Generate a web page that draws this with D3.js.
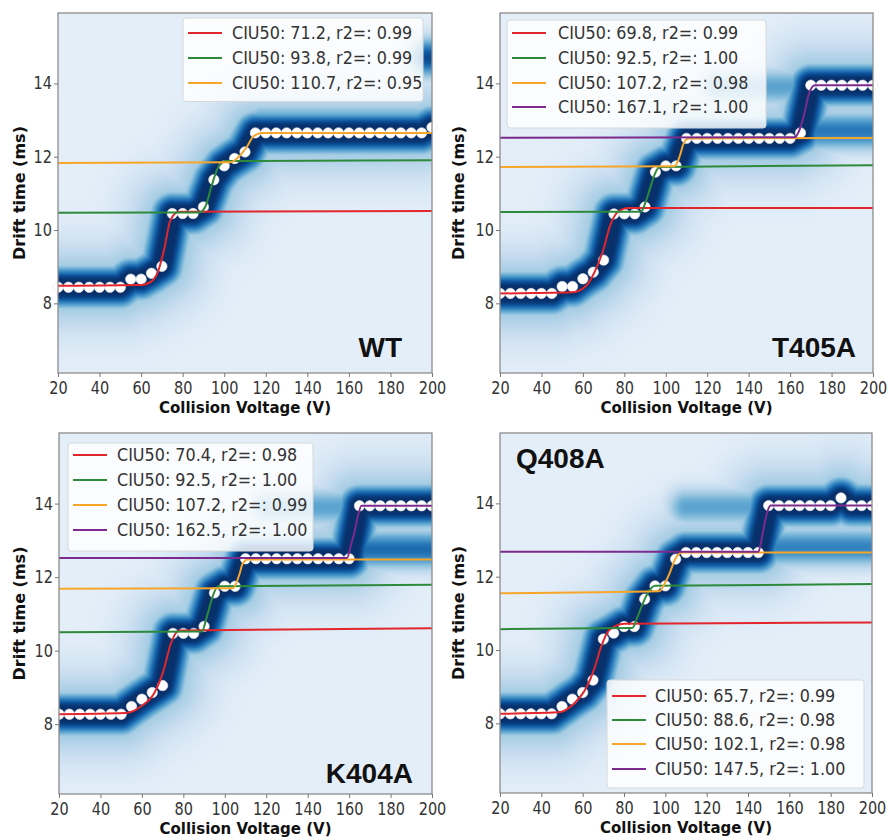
<!DOCTYPE html>
<html>
<head>
<meta charset="utf-8">
<script src="https://cdn.jsdelivr.net/npm/d3@7"></script>
<style>
  body { margin: 0; background: #fff; }
  text { font-family: "DejaVu Sans", sans-serif; }
</style>
</head>
<body>
<div id="chart"></div>
<script>
// SVG area
var svgWidth = 889;
var svgHeight = 840;

// collision voltages (V), shared by all four fingerprints
var voltages = [20, 25, 30, 35, 40, 45, 50, 55, 60, 65, 70, 75, 80, 85, 90, 95, 100,
  105, 110, 115, 120, 125, 130, 135, 140, 145, 150, 155, 160, 165, 170, 175, 180,
  185, 190, 195, 200];

// feature centroid drift times (ms), one per voltage
var wtDrift = [8.44, 8.44, 8.44, 8.44, 8.44, 8.44, 8.44, 8.66, 8.66, 8.82, 9.01,
  10.45, 10.45, 10.45, 10.63, 11.37, 11.75, 11.95, 12.13,
  12.65, 12.65, 12.65, 12.65, 12.65, 12.65, 12.65, 12.65, 12.65, 12.65, 12.65,
  12.65, 12.65, 12.65, 12.65, 12.65, 12.65, 12.8];
var t405Drift = [8.27, 8.27, 8.27, 8.27, 8.27, 8.27, 8.46, 8.46, 8.67, 8.85, 9.18,
  10.44, 10.44, 10.44, 10.63, 11.58, 11.75, 11.75,
  12.5, 12.5, 12.5, 12.5, 12.5, 12.5, 12.5, 12.5, 12.5, 12.5, 12.5, 12.65,
  13.95, 13.95, 13.95, 13.95, 13.95, 13.95, 13.95];
var k404Drift = [8.27, 8.27, 8.27, 8.27, 8.27, 8.27, 8.27, 8.48, 8.68, 8.86, 9.05,
  10.47, 10.47, 10.47, 10.66, 11.57, 11.75, 11.75,
  12.5, 12.5, 12.5, 12.5, 12.5, 12.5, 12.5, 12.5, 12.5, 12.5, 12.5,
  13.94, 13.94, 13.94, 13.94, 13.94, 13.94, 13.94, 13.94];
var q408Drift = [8.26, 8.26, 8.26, 8.26, 8.26, 8.26, 8.46, 8.66, 8.84, 9.18, 10.3,
  10.46, 10.64, 10.64, 11.39, 11.75, 11.75, 12.48,
  12.66, 12.66, 12.66, 12.66, 12.66, 12.66, 12.66, 12.66,
  13.94, 13.94, 13.94, 13.94, 13.94, 13.94, 13.94, 14.15, 13.94, 13.94, 13.94];

// weaker intensity features in the fingerprints: [from V, to V, drift time, weight]
var wtExtra = [[198, 206, 14.7, 0.9], [118, 200, 12.9, 0.6]];
var t405Extra = [[125, 168, 13.9, 0.5], [168, 200, 12.7, 0.7]];
var k404Extra = [[120, 163, 13.9, 0.5], [163, 200, 12.75, 0.75]];
var q408Extra = [[110, 150, 13.9, 0.5], [150, 200, 12.8, 0.65]];

// fitted transitions (V, ms)
var wtFitRed = [[20, 8.48], [60, 8.5], [65, 8.6], [68, 8.85], [71.2, 9.5], [74, 10.25], [78, 10.5], [200, 10.52]];
var wtFitGreen = [[20, 10.47], [88, 10.48], [91, 10.65], [93.8, 11.18], [97, 11.7], [101, 11.88], [200, 11.9]];
var wtFitOrange = [[20, 11.83], [103, 11.85], [107, 12.0], [110.7, 12.25], [114, 12.55], [118, 12.65], [200, 12.65]];

var t405FitRed = [[20, 8.27], [55, 8.3], [62, 8.5], [66, 8.9], [69.8, 9.45], [73, 10.1], [77, 10.5], [82, 10.6], [200, 10.6]];
var t405FitGreen = [[20, 10.49], [88, 10.5], [90.5, 10.8], [92.5, 11.15], [94.5, 11.5], [97, 11.72], [200, 11.77]];
var t405FitOrange = [[20, 11.72], [104, 11.74], [106, 11.9], [107.2, 12.1], [108.5, 12.35], [111, 12.5], [200, 12.51]];
var t405FitPurple = [[20, 12.52], [162, 12.53], [165, 12.8], [167.1, 13.23], [169, 13.7], [172, 13.95], [200, 13.95]];

var k404FitRed = [[20, 8.27], [52, 8.3], [60, 8.5], [66, 8.85], [70.4, 9.45], [74, 10.2], [78, 10.55], [200, 10.61]];
var k404FitGreen = [[20, 10.5], [89, 10.52], [91, 10.85], [92.5, 11.15], [94, 11.45], [97, 11.75], [200, 11.79]];
var k404FitOrange = [[20, 11.68], [104, 11.7], [106, 11.9], [107.2, 12.1], [108.5, 12.35], [111, 12.48], [200, 12.48]];
var k404FitPurple = [[20, 12.52], [159, 12.52], [161, 12.9], [162.5, 13.2], [164, 13.6], [166, 13.94], [200, 13.94]];

var q408FitRed = [[20, 8.26], [48, 8.3], [56, 8.55], [62, 9.0], [65.7, 9.5], [69, 10.1], [73, 10.55], [80, 10.72], [200, 10.75]];
var q408FitGreen = [[20, 10.57], [84, 10.6], [86.5, 10.9], [88.6, 11.2], [91, 11.5], [95, 11.75], [200, 11.8]];
var q408FitOrange = [[20, 11.55], [97, 11.6], [100, 11.85], [102.1, 12.1], [104.5, 12.45], [108, 12.66], [200, 12.66]];
var q408FitPurple = [[20, 12.68], [145, 12.68], [146.5, 13.0], [147.5, 13.3], [149, 13.7], [151, 13.94], [200, 13.94]];

// legend values
var wtCiu = [71.2, 93.8, 110.7];
var wtR2 = ["0.99", "0.99", "0.95"];
var t405Ciu = [69.8, 92.5, 107.2, 167.1];
var t405R2 = ["0.99", "1.00", "0.98", "1.00"];
var k404Ciu = [70.4, 92.5, 107.2, 162.5];
var k404R2 = ["0.98", "1.00", "0.99", "1.00"];
var q408Ciu = [65.7, 88.6, 102.1, 147.5];
var q408R2 = ["0.99", "0.98", "0.98", "1.00"];

var fitColors = ["#e2262c", "#2e8a3b", "#f7a62a", "#7c2a8d"];
var xTicks = [20, 40, 60, 80, 100, 120, 140, 160, 180, 200];
var yTicks = [8, 10, 12, 14];

// panel layout
var panels = [
  { name: "WT", drift: wtDrift, extra: wtExtra, fits: [wtFitRed, wtFitGreen, wtFitOrange],
    ciu: wtCiu, r2: wtR2, left: 58, right: 432, top: 13, bottom: 373, yTitleX: 25,
    legend: { x: 183, y: 18, w: 240, rows: [33, 58, 83], line: 188, text: 232 },
    label: { x: 402, y: 357, anchor: "end" } },
  { name: "T405A", drift: t405Drift, extra: t405Extra, fits: [t405FitRed, t405FitGreen, t405FitOrange, t405FitPurple],
    ciu: t405Ciu, r2: t405R2, left: 500, right: 873, top: 13, bottom: 373, yTitleX: 464,
    legend: { x: 507, y: 20, w: 259, rows: [33, 58, 83, 107], line: 512, text: 558 },
    label: { x: 856, y: 357, anchor: "end" } },
  { name: "K404A", drift: k404Drift, extra: k404Extra, fits: [k404FitRed, k404FitGreen, k404FitOrange, k404FitPurple],
    ciu: k404Ciu, r2: k404R2, left: 59, right: 432, top: 433, bottom: 794, yTitleX: 25,
    legend: { x: 68, y: 443, w: 245, rows: [455, 480, 505, 530], line: 73, text: 117 },
    label: { x: 413, y: 783, anchor: "end" } },
  { name: "Q408A", drift: q408Drift, extra: q408Extra, fits: [q408FitRed, q408FitGreen, q408FitOrange, q408FitPurple],
    ciu: q408Ciu, r2: q408R2, left: 500, right: 872, top: 433, bottom: 793, yTitleX: 464,
    legend: { x: 607, y: 680, w: 257, rows: [696, 720, 744, 769], line: 612, text: 655 },
    label: { x: 516, y: 468, anchor: "start" } }
];

var svg = d3.select("#chart")
  .append("svg")
  .attr("width", svgWidth)
  .attr("height", svgHeight);

// Blues colour lookup
var blues = d3.scaleSequential(d3.interpolateBlues).domain([0, 1]);
var lut = d3.range(256).map(function(i) { return d3.rgb(blues(0.1 + 0.9 * i / 255)); });

function segDist(px, py, ax, ay, bx, by) {
  var dx = bx - ax, dy = by - ay;
  var len = dx * dx + dy * dy;
  var t = len > 0 ? ((px - ax) * dx + (py - ay) * dy) / len : 0;
  t = Math.max(0, Math.min(1, t));
  var cx = ax + t * dx - px, cy = ay + t * dy - py;
  return Math.sqrt(cx * cx + cy * cy);
}

// intensity falloff around the main feature (distance in px)
function profile(d) {
  var e = Math.max(0, d - 6);
  var core = Math.exp(-e * e / (2 * 10 * 10));
  var halo = 0.36 * Math.exp(-d * d / (2 * 30 * 30));
  return Math.max(core, halo);
}

// heat map of the fingerprint, drawn on a canvas and placed as an image
function drawHeatmap(g, x, y, w, h, drift, extra) {
  var canvas = document.createElement("canvas");
  canvas.width = w;
  canvas.height = h;
  var ctx = canvas.getContext("2d");
  var img = ctx.createImageData(w, h);
  var pts = voltages.map(function(v, i) { return [x(v), y(drift[i])]; });
  var segs = extra.map(function(e) { return [x(e[0]), x(e[1]), y(e[2]), e[3]]; });
  for (var j = 0; j < h; j++) {
    for (var i = 0; i < w; i++) {
      var px = i + 0.5, py = j + 0.5;
      var dmin = 1e9;
      for (var k = 0; k < pts.length - 1; k++) {
        var d = segDist(px, py, pts[k][0], pts[k][1], pts[k + 1][0], pts[k + 1][1]);
        if (d < dmin) dmin = d;
      }
      var t = profile(dmin);
      segs.forEach(function(s) {
        var ds = segDist(px, py, s[0], s[2], s[1], s[2]);
        t = Math.max(t, s[3] * Math.exp(-ds * ds / (2 * 13 * 13)));
      });
      var c = lut[Math.round(Math.min(1, t) * 255)];
      var o = (j * w + i) * 4;
      img.data[o] = c.r;
      img.data[o + 1] = c.g;
      img.data[o + 2] = c.b;
      img.data[o + 3] = 255;
    }
  }
  ctx.putImageData(img, 0, 0);
  g.append("image")
    .attr("width", w)
    .attr("height", h)
    .attr("preserveAspectRatio", "none")
    .attr("href", canvas.toDataURL());
}

panels.forEach(function(p) {
  var w = p.right - p.left;
  var h = p.bottom - p.top;

  var xScale = d3.scaleLinear().domain([20, 200]).range([0, w]);
  var yScale = d3.scaleLinear().domain([6.1, 15.92]).range([h, 0]);

  var g = svg.append("g")
    .attr("transform", `translate(${p.left}, ${p.top})`);

  drawHeatmap(g, xScale, yScale, w, h, p.drift, p.extra);

  // centroid points
  g.selectAll("circle")
    .data(voltages)
    .enter()
    .append("circle")
    .attr("cx", d => xScale(d))
    .attr("cy", (d, i) => yScale(p.drift[i]))
    .attr("r", 5.2)
    .attr("fill", "#ffffff")
    .attr("stroke", "#e8e8e8")
    .attr("stroke-width", 0.6);

  // fitted transitions
  var line = d3.line()
    .x(d => xScale(d[0]))
    .y(d => yScale(d[1]))
    .curve(d3.curveMonotoneX);

  p.fits.forEach(function(f, i) {
    g.append("path")
      .attr("d", line(f))
      .attr("fill", "none")
      .attr("stroke", fitColors[i])
      .attr("stroke-width", 2);
  });

  // frame
  g.append("rect")
    .attr("width", w)
    .attr("height", h)
    .attr("fill", "none")
    .attr("stroke", "#8c8c8c")
    .attr("stroke-width", 1.3);

  // axes
  var xAxis = g.append("g")
    .attr("transform", `translate(0, ${h})`)
    .call(d3.axisBottom(xScale).tickValues(xTicks).tickSize(4).tickPadding(3));
  var yAxis = g.append("g")
    .call(d3.axisLeft(yScale).tickValues(yTicks).tickSize(4).tickPadding(2));

  [xAxis, yAxis].forEach(function(a) {
    a.select(".domain").remove();
    a.selectAll("line").attr("stroke", "#777");
    a.selectAll("text")
      .attr("fill", "#333")
      .style("font-size", "14.5px")
      .attr("transform", "scale(1,1.2)");
  });

  // axis titles
  svg.append("text")
    .attr("x", (p.left + p.right) / 2)
    .attr("y", p.bottom + 40)
    .attr("text-anchor", "middle")
    .style("font-size", "15px")
    .style("font-weight", "bold")
    .attr("fill", "#111")
    .text("Collision Voltage (V)");

  svg.append("text")
    .attr("transform", `translate(${p.yTitleX}, ${(p.top + p.bottom) / 2}) rotate(-90)`)
    .attr("text-anchor", "middle")
    .style("font-size", "16px")
    .style("font-weight", "bold")
    .attr("fill", "#111")
    .text("Drift time (ms)");

  // legend
  var lg = p.legend;
  var lgHeight = p.fits.length * 24.5 + 10;
  svg.append("rect")
    .attr("x", lg.x)
    .attr("y", lg.y)
    .attr("width", lg.w)
    .attr("height", lgHeight)
    .attr("rx", 3)
    .attr("fill", "#ffffff")
    .attr("fill-opacity", 0.82)
    .attr("stroke", "#d8d8d8");

  p.fits.forEach(function(f, i) {
    var ry = lg.rows[i];
    svg.append("line")
      .attr("x1", lg.line)
      .attr("x2", lg.line + 34)
      .attr("y1", ry)
      .attr("y2", ry)
      .attr("stroke", fitColors[i])
      .attr("stroke-width", 2);
    svg.append("text")
      .attr("transform", `translate(${lg.text}, ${ry}) scale(1,1.1)`)
      .attr("dy", "0.36em")
      .attr("fill", "#333")
      .style("font-size", "16px")
      .text(`CIU50: ${p.ciu[i].toFixed(1)}, r2=: ${p.r2[i]}`);
  });

  // variant label
  svg.append("text")
    .attr("x", p.label.x)
    .attr("y", p.label.y)
    .attr("text-anchor", p.label.anchor)
    .style("font-family", "'Liberation Sans', Arial, sans-serif")
    .style("font-size", "28px")
    .style("font-weight", "bold")
    .attr("fill", "#111")
    .text(p.name);
});
</script>
</body>
</html>
